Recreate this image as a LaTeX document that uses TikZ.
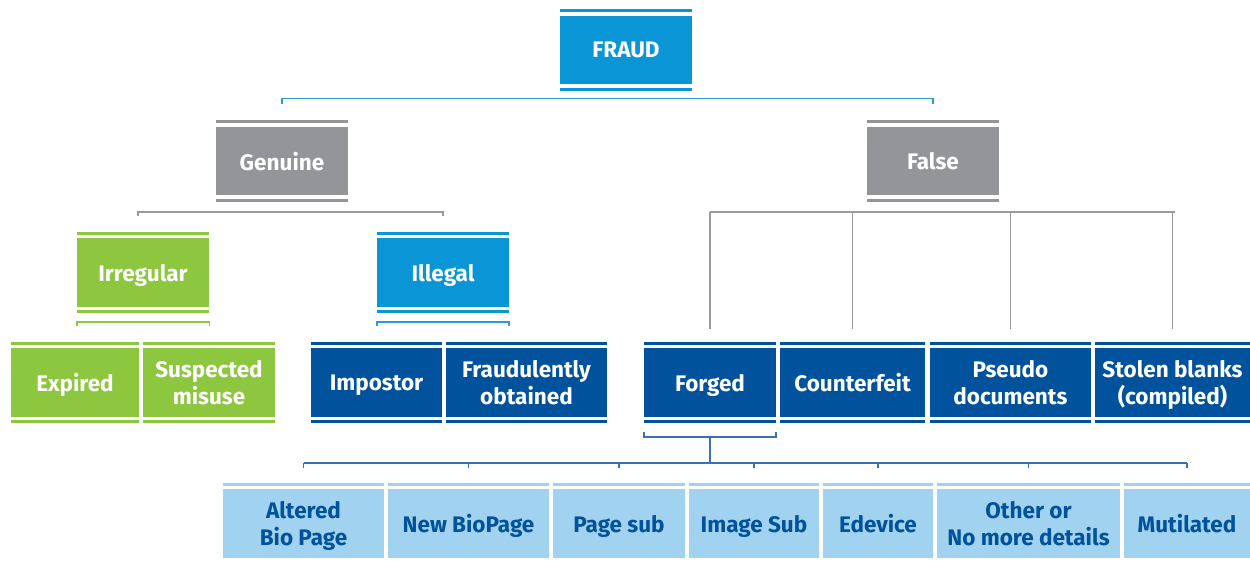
\documentclass[tikz,border=0pt]{standalone}
\usepackage{fontspec}
\setmainfont{Fira Sans}
\usepackage{xcolor}
\usepackage{tikz}
\usetikzlibrary{positioning, calc}
\definecolor{fraudBlue}{HTML}{0A96D6}
\definecolor{fraudGrey}{HTML}{939598}
\definecolor{fraudGreen}{HTML}{8DC63F}
\definecolor{fraudNavy}{HTML}{00529C}
\definecolor{fraudSky}{HTML}{A1D2F0}
\definecolor{fraudLine}{HTML}{3A70B5}
\definecolor{fraudLineBlue}{HTML}{2E9AD6}
\definecolor{fraudLineGrey}{HTML}{9A9A9A}
\tikzset{
  fr/box/.style     = {rectangle, inner sep=0pt, align=center, text=white,
                       minimum height=68.5pt, text depth=0pt,
                       font=\bfseries\fontsize{22.5}{27}\selectfont},
  fr/top/.style     = {fr/box, fill=fraudBlue},
  fr/genus/.style   = {fr/box, fill=fraudGrey},
  fr/irreg/.style   = {fr/box, fill=fraudGreen},
  fr/navy/.style    = {fr/box, fill=fraudNavy},
  fr/sky/.style     = {fr/box, fill=fraudSky, text=fraudNavy},
  fr/lineb/.style   = {draw=fraudLineBlue, line width=1.6pt},
  fr/lineg/.style   = {draw=fraudLineGrey, line width=1.6pt},
  fr/linegr/.style  = {draw=fraudGreen, line width=1.4pt},
  fr/linen/.style   = {draw=fraudLine, line width=1.6pt},
}
% thin bars above and below a box
\newcommand{\frtopbar}[2]{%
  \fill[#2] ($(#1.north west)+(0,-3.5)$) rectangle ($(#1.north east)+(0,-6.5)$);}
\newcommand{\frbars}[2]{%
  \frtopbar{#1}{#2}
  \fill[#2] ($(#1.south west)+(0,3.5)$) rectangle ($(#1.south east)+(0,6.5)$);}
\begin{document}
\begin{tikzpicture}[x=1pt, y=-1pt]
  \useasboundingbox (0,0) rectangle (1250,561);
  % top level
  \node[fr/top, minimum width=132pt] (fraud) at (626,50) {FRAUD};
  \node[fr/genus, minimum width=132pt] (genuine) at (282,161) {Genuine};
  \node[fr/genus, minimum width=132pt] (false) at (933,161) {False};
  % genuine branch
  \node[fr/irreg, minimum width=132pt] (irregular) at (143,272.5) {Irregular};
  \node[fr/top, minimum width=132pt] (illegal) at (443,272.5) {Illegal};
  % third row
  \node[fr/irreg, minimum width=128pt] (expired) at (75,382.5) {Expired};
  \node[fr/irreg, minimum width=132pt] (misuse) at (209,382.5) {Suspected\\misuse};
  \node[fr/navy, minimum width=131pt] (impostor) at (376.5,382.5) {Impostor};
  \node[fr/navy, minimum width=161pt] (obtained) at (526.5,382.5) {Fraudulently\\obtained};
  \node[fr/navy, minimum width=132pt] (forged) at (710,382.5) {Forged};
  \node[fr/navy, minimum width=145pt] (counterfeit) at (852.5,382.5) {Counterfeit};
  \node[fr/navy, minimum width=161pt] (pseudo) at (1010.5,382.5) {Pseudo\\documents};
  \node[fr/navy, minimum width=155pt] (stolen) at (1172.5,382.5) {Stolen blanks\\(compiled)};
  % forged subtypes
  \node[fr/sky, minimum width=161pt] (altered) at (303.5,523.5) {Altered\\Bio Page};
  \node[fr/sky, minimum width=161pt] (biopage) at (468.5,523.5) {New BioPage};
  \node[fr/sky, minimum width=132pt] (pagesub) at (619,523.5) {Page sub};
  \node[fr/sky, minimum width=130pt] (imagesub) at (754,523.5) {Image Sub};
  \node[fr/sky, minimum width=110pt] (edevice) at (878,523.5) {Edevice};
  \node[fr/sky, minimum width=183pt] (other) at (1028.5,523.5) {Other or\\No more details};
  \node[fr/sky, minimum width=126pt] (mutilated) at (1187,523.5) {Mutilated};
  % bars
  \frbars{fraud}{fraudBlue}
  \frbars{genuine}{fraudGrey}
  \frbars{false}{fraudGrey}
  \frbars{irregular}{fraudGreen}
  \frbars{illegal}{fraudBlue}
  \foreach \n in {expired, misuse} {\frbars{\n}{fraudGreen}}
  \foreach \n in {impostor, obtained, forged, counterfeit, pseudo, stolen} {\frbars{\n}{fraudNavy}}
  \foreach \n in {altered, biopage, pagesub, imagesub, edevice, other, mutilated} {\frtopbar{\n}{fraudSky}}
  % connectors
  \draw[fr/lineb] ($(genuine.north)+(0,-23)$) -- ($(genuine.north)+(0,-28)$)
                  -- ($(false.north)+(0,-28)$) -- ($(false.north)+(0,-23)$);
  \draw[fr/lineg] ($(irregular.north)+(-5,-22)$) -- ($(irregular.north)+(-5,-26)$)
                  -- ($(illegal.north)+(0,-26)$) -- ($(illegal.north)+(0,-22)$);
  \draw[fr/lineg] ($(forged.north)+(0,-136)$) -- ($(stolen.north)+(2.5,-136)$);
  \foreach \n in {forged, counterfeit, pseudo, stolen}
    \draw[fr/lineg] ($(\n.north)+(0,-19)$) -- ($(\n.north)+(0,-136)$);
  \draw[fr/linegr] ($(irregular.south west)+(0,19)$) -- ($(irregular.south west)+(0,15)$)
                   -- ($(irregular.south east)+(0,15)$) -- ($(irregular.south east)+(0,19)$);
  \draw[fr/lineb] ($(illegal.south west)+(0,19)$) -- ($(illegal.south west)+(0,15)$)
                  -- ($(illegal.south east)+(0,15)$) -- ($(illegal.south east)+(0,19)$);
  \draw[fr/linen] ($(forged.south west)+(0,15)$) -- ($(forged.south west)+(0,20)$)
                  -- ($(forged.south east)+(0,20)$) -- ($(forged.south east)+(0,15)$);
  \draw[fr/linen] ($(forged.south)+(0,20)$) -- ($(altered.north -| forged.south)+(0,-26)$);
  \draw[fr/linen] ($(altered.north)+(0,-26)$) -- ($(mutilated.north)+(0,-26)$);
  \foreach \n in {altered, biopage, pagesub, imagesub, edevice, other, mutilated}
    \draw[fr/linen] ($(\n.north)+(0,-21)$) -- ($(\n.north)+(0,-26)$);
\end{tikzpicture}
\end{document}
